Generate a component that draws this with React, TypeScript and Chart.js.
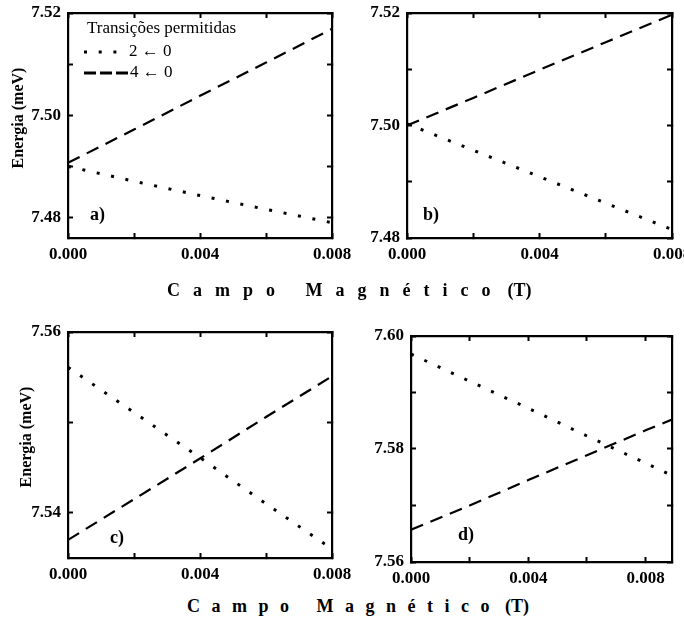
import React, { useEffect, useRef } from "react";
import { Chart, registerables } from "chart.js";

Chart.register(...registerables);

// ---------- data ----------
const FIELD = [0, 0.002, 0.004, 0.006, 0.008];
const FIELD_D = [0, 0.002, 0.004, 0.006, 0.008, 0.0089];

const A_20 = [7.49, 7.4871, 7.4843, 7.4816, 7.479];
const A_40 = [7.4907, 7.4972, 7.5038, 7.5103, 7.5169];
const B_20 = [7.5003, 7.4956, 7.4909, 7.4862, 7.4815];
const B_40 = [7.5, 7.5049, 7.5099, 7.5148, 7.5197];
const C_20 = [7.5561, 7.5511, 7.5461, 7.541, 7.536];
const C_40 = [7.537, 7.5415, 7.546, 7.5506, 7.5551];
const D_20 = [7.5968, 7.592, 7.5872, 7.5823, 7.5775, 7.5753];
const D_40 = [7.5657, 7.57, 7.5745, 7.5789, 7.5833, 7.5852];

const X_TICKS = [0, 0.002, 0.004, 0.006, 0.008];
const Y_TICKS_A = [7.48, 7.49, 7.5, 7.51, 7.52];
const Y_TICKS_C = [7.54, 7.55, 7.56];
const Y_TICKS_D = [7.56, 7.57, 7.58, 7.59, 7.6];

const LABEL_20 = "2 \u2190 0";
const LABEL_40 = "4 \u2190 0";
const LEGEND_TITLE = "Transições permitidas";
const X_TITLE = "Campo Magnético";
const X_UNIT = "(T)";
const Y_TITLE = "Energia (meV)";

const SERIF = '"Liberation Serif", "Times New Roman", serif';

const DOT_STYLE = { borderDash: [3, 11.7], borderWidth: 3 };
const DASH_STYLE = { borderDash: [13, 8], borderWidth: 2.2 };

type PanelSpec = {
  id: string;
  canvas: { x: number; y: number; w: number; h: number };
  area: { l: number; t: number; r: number; b: number };
  xs: number[];
  s20: number[];
  s40: number[];
  xMax: number;
  yMin: number;
  yMax: number;
  yTicks: number[];
  tag: string;
  tagOff: { dx: number; dy: number };
  legend: boolean;
};

const PANELS: PanelSpec[] = [
  {
    id: "a",
    canvas: { x: 0, y: 0, w: 360, h: 285 },
    area: { l: 68, t: 13, r: 332, b: 238 },
    xs: FIELD, s20: A_20, s40: A_40,
    xMax: 0.008, yMin: 7.476, yMax: 7.52, yTicks: Y_TICKS_A,
    tag: "a)", tagOff: { dx: 22, dy: 23 }, legend: true,
  },
  {
    id: "b",
    canvas: { x: 342, y: 0, w: 342, h: 285 },
    area: { l: 407, t: 13, r: 672, b: 238 },
    xs: FIELD, s20: B_20, s40: B_40,
    xMax: 0.008, yMin: 7.48, yMax: 7.52, yTicks: Y_TICKS_A,
    tag: "b)", tagOff: { dx: 16, dy: 23 }, legend: false,
  },
  {
    id: "c",
    canvas: { x: 0, y: 300, w: 360, h: 290 },
    area: { l: 68, t: 332, r: 332, b: 558 },
    xs: FIELD, s20: C_20, s40: C_40,
    xMax: 0.008, yMin: 7.535, yMax: 7.56, yTicks: Y_TICKS_C,
    tag: "c)", tagOff: { dx: 42, dy: 20 }, legend: false,
  },
  {
    id: "d",
    canvas: { x: 342, y: 300, w: 342, h: 290 },
    area: { l: 411, t: 336, r: 672, b: 562 },
    xs: FIELD_D, s20: D_20, s40: D_40,
    xMax: 0.0089, yMin: 7.56, yMax: 7.6, yTicks: Y_TICKS_D,
    tag: "d)", tagOff: { dx: 47, dy: 27 }, legend: false,
  },
];

const TICK_FONT = { family: SERIF, size: 17, weight: "bold" as const, lineHeight: 1.2 };

function makeAxis(
  position: string,
  min: number,
  max: number,
  ticks: number[],
  size: number,
  fmt: ((v: number) => string) | null,
  padding: number
) {
  return {
    type: "linear",
    position,
    min,
    max,
    afterBuildTicks: (s: any) => {
      s.ticks = ticks.map((v) => ({ value: v }));
    },
    afterFit: (s: any) => {
      if (position === "left" || position === "right") s.width = size;
      else s.height = size;
      s.paddingLeft = 0;
      s.paddingRight = 0;
      s.paddingTop = 0;
      s.paddingBottom = 0;
    },
    grid: {
      drawOnChartArea: false,
      drawTicks: true,
      tickLength: -5,
      tickWidth: 2,
      tickColor: "#000",
    },
    border: { display: true, color: "#000", width: 2.2 },
    ticks: {
      display: !!fmt,
      autoSkip: false,
      maxRotation: 0,
      minRotation: 0,
      color: "#000",
      font: TICK_FONT,
      padding,
      callback: (v: any) => (fmt ? fmt(Number(v)) : ""),
    },
  };
}

const fmtX = (v: number) =>
  Math.round(v * 1000) % 4 === 0 ? v.toFixed(3) : "";
const fmtY = (v: number) =>
  Math.round(v * 100) % 2 === 0 ? v.toFixed(2) : "";

function Panel({ spec }: { spec: PanelSpec }) {
  const ref = useRef<HTMLCanvasElement | null>(null);

  useEffect(() => {
    const cv = ref.current;
    if (!cv) return;
    const { canvas: c, area: a } = spec;
    const yWidth = a.l - c.x;
    const padTop = a.t - c.y;
    const padRight = c.x + c.w - a.r;
    const xHeight = c.y + c.h - a.b;

    const pts = (vals: number[]) => spec.xs.map((x, i) => ({ x, y: vals[i] }));

    const decor = {
      id: "decor_" + spec.id,
      afterDraw(chart: any) {
        const ctx = chart.ctx;
        const ca = chart.chartArea;
        ctx.save();
        ctx.fillStyle = "#000";
        ctx.textBaseline = "middle";
        ctx.textAlign = "left";
        ctx.font = `bold 18px ${SERIF}`;
        ctx.fillText(spec.tag, ca.left + spec.tagOff.dx, ca.bottom - spec.tagOff.dy);

        if (spec.legend) {
          const ds0 = chart.data.datasets[0];
          const ds1 = chart.data.datasets[1];
          ctx.font = `17px ${SERIF}`;
          ctx.fillText(LEGEND_TITLE, ca.left + 19, ca.top + 16);
          // row 1 (dotted)
          const y1 = ca.top + 39;
          ctx.strokeStyle = "#000";
          ctx.lineWidth = ds0.borderWidth;
          ctx.setLineDash(ds0.borderDash);
          ctx.beginPath();
          ctx.moveTo(ca.left + 16, y1);
          ctx.lineTo(ca.left + 50, y1);
          ctx.stroke();
          ctx.fillText(ds0.label, ca.left + 61, y1);
          // row 2 (dashed)
          const y2 = ca.top + 60;
          ctx.lineWidth = ds1.borderWidth + 0.6;
          ctx.setLineDash([12, 4]);
          ctx.beginPath();
          ctx.moveTo(ca.left + 16, y2);
          ctx.lineTo(ca.left + 60, y2);
          ctx.stroke();
          ctx.setLineDash([]);
          ctx.fillText(ds1.label, ca.left + 62, y2);
        }
        ctx.restore();
      },
    };

    const chart = new Chart(cv, {
      type: "line",
      data: {
        datasets: [
          {
            label: LABEL_20,
            data: pts(spec.s20),
            borderColor: "#000",
            borderCapStyle: "butt",
            pointRadius: 0,
            tension: 0,
            ...DOT_STYLE,
          },
          {
            label: LABEL_40,
            data: pts(spec.s40),
            borderColor: "#000",
            borderCapStyle: "butt",
            pointRadius: 0,
            tension: 0,
            ...DASH_STYLE,
          },
        ],
      },
      options: {
        responsive: false,
        animation: false,
        devicePixelRatio: 1,
        layout: { padding: { left: 0, top: padTop, right: padRight, bottom: 0 } },
        plugins: {
          legend: { display: false },
          tooltip: { enabled: false },
          title: { display: false },
        },
        scales: {
          x: makeAxis("bottom", 0, spec.xMax, X_TICKS, xHeight, fmtX, 11),
          x2: makeAxis("top", 0, spec.xMax, X_TICKS, 0, null, 0),
          y: makeAxis("left", spec.yMin, spec.yMax, spec.yTicks, yWidth, fmtY, 12),
          y2: makeAxis("right", spec.yMin, spec.yMax, spec.yTicks, 0, null, 0),
        },
      } as any,
      plugins: [decor],
    } as any);

    return () => chart.destroy();
  }, [spec]);

  const c = spec.canvas;
  return (
    <canvas
      ref={ref}
      width={c.w}
      height={c.h}
      style={{ position: "absolute", left: c.x, top: c.y, width: c.w, height: c.h }}
    />
  );
}

function XTitle({ left, top, spacing }: { left: number; top: number; spacing: number }) {
  return (
    <div
      style={{
        position: "absolute",
        left,
        top,
        font: `bold 18px ${SERIF}`,
        lineHeight: "18px",
        whiteSpace: "nowrap",
        color: "#000",
      }}
    >
      <span style={{ letterSpacing: spacing + "px" }}>{X_TITLE}</span>
      <span style={{ marginLeft: 4 }}>{X_UNIT}</span>
    </div>
  );
}

function YTitle({ cx, cy }: { cx: number; cy: number }) {
  const w = 160;
  const h = 20;
  return (
    <div
      style={{
        position: "absolute",
        left: cx - w / 2,
        top: cy - h / 2,
        width: w,
        height: h,
        lineHeight: h + "px",
        textAlign: "center",
        font: `bold 16px ${SERIF}`,
        color: "#000",
        transform: "rotate(-90deg)",
        whiteSpace: "nowrap",
      }}
    >
      {Y_TITLE}
    </div>
  );
}

export default function App() {
  return (
    <div
      style={{
        position: "absolute",
        left: 0,
        top: 0,
        width: 684,
        height: 623,
        background: "#fff",
        overflow: "hidden",
      }}
    >
      {PANELS.map((p) => (
        <Panel key={p.id} spec={p} />
      ))}
      <YTitle cx={19} cy={118} />
      <YTitle cx={27} cy={437} />
      <XTitle left={167} top={281} spacing={13} />
      <XTitle left={187} top={597} spacing={11.5} />
    </div>
  );
}
